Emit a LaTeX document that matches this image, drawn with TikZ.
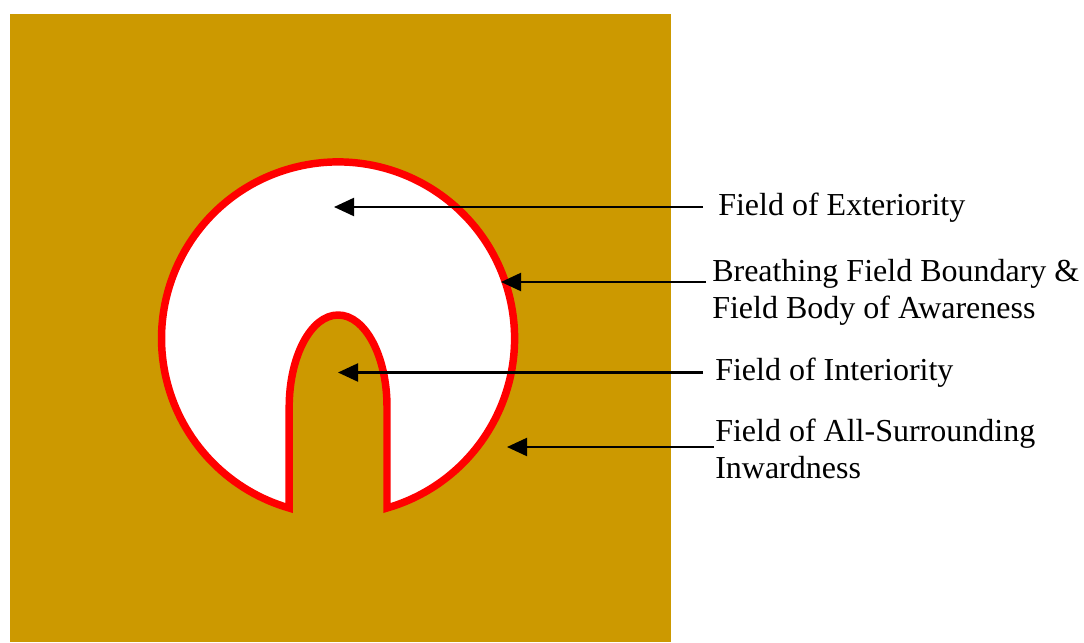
\documentclass[tikz,border=0pt]{standalone}
\usepackage{fontspec}
\setmainfont{Liberation Serif}
\usetikzlibrary{arrows.meta}
\definecolor{gold}{RGB}{204,153,0}
\begin{document}
\begin{tikzpicture}[x=0.75pt,y=-0.75pt,
  lbl/.style={anchor=base west,inner sep=0pt,align=left,font=\fontsize{24}{27.5}\selectfont},
  ptr/.style={line width=1.6pt,-{Triangle[length=15pt,width=13.5pt]}},
  bound/.style={draw=red,line width=5.6pt,fill=white}]
\useasboundingbox (0,0) rectangle (1084,642);
\fill[gold] (10,14) rectangle (671,642);
\draw[bound] (387,508)
  arc[start angle=73.9,end angle=-253.9,radius=176.5]
  -- (289.2,407)
  arc[start angle=180,end angle=360,x radius=48.9,y radius=92]
  -- cycle;
% labels (base = last line's baseline)
\node[lbl] (ext) at (718,215) {Field of Exteriority};
\node[lbl] (bnd) at (712,318.3) {Breathing Field Boundary \&\\Field Body of Awareness};
\node[lbl] (int) at (715,380) {Field of Interiority};
\node[lbl] (sur) at (715,478.3) {Field of All-Surrounding\\Inwardness};
% connector ends
\coordinate (sE) at (703,207);   \coordinate (tE) at (334,207);
\coordinate (sB) at (706,282);   \coordinate (tB) at (501,282);
\coordinate (sI) at (703,372.5); \coordinate (tI) at (338,372.5);
\coordinate (sS) at (714,447);   \coordinate (tS) at (507,447);
\draw[ptr] (sE) -- (tE);
\draw[ptr] (sB) -- (tB);
\draw[ptr] (sI) -- (tI);
\draw[ptr] (sS) -- (tS);
\end{tikzpicture}
\end{document}
